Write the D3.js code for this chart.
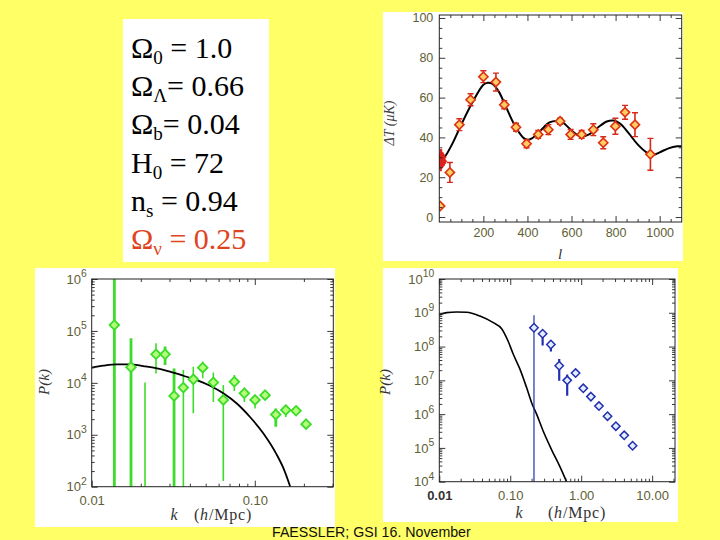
<!DOCTYPE html>
<html><head><meta charset="utf-8">
<script src="https://cdn.jsdelivr.net/npm/d3@7"></script>
<style>body{margin:0;background:#ffff66;} svg{display:block}</style>
</head><body>
<svg id="c" width="720" height="540"></svg>
<script>
// ---------------- data ----------------
const paramSymbols = ["Ω", "Ω", "Ω", "H", "n", "Ω"];
const paramSubs    = ["0", "Λ", "b", "0", "s", "ν"];
const paramValues  = [" = 1.0", "= 0.66", "= 0.04", " = 72", " = 0.94", " = 0.25"];
const paramHighlight = [false, false, false, false, false, true];

// CMB anisotropy
const cmbL   = [4, 48, 91, 142, 200, 257, 295, 348, 396, 449, 495, 548, 596, 646, 699, 744, 799, 843, 888, 958];
const cmbT   = [5.5, 22.4, 46.4, 58.9, 70.5, 67.8, 56.4, 45.1, 36.8, 41.5, 43.9, 48.1, 41.5, 41.5, 43.9, 37.3, 45.6, 52.6, 46.4, 31.5];
const cmbErr = [1, 5, 3, 3, 3, 4.5, 2, 2, 2, 2, 2.5, 1.5, 2.5, 2, 3, 3, 4, 3.5, 6, 8];
const cobeL   = [3, 5, 7, 9, 11, 13, 15, 18];
const cobeT   = [28, 30, 26, 31, 29, 27, 30, 28];
const cobeErr = [4, 4, 3, 3, 3, 2.5, 2.5, 2.5];
const cmbModelL = [10, 30, 60, 100, 150, 200, 220, 240, 270, 300, 340, 380, 400, 420, 460, 500, 530, 560, 600, 640, 680, 720, 760, 790, 820, 860, 900, 940, 970, 1000, 1040, 1080, 1100];
const cmbModelT = [28, 31, 37, 46.5, 57.5, 66.5, 67.5, 67, 63, 56, 46.5, 40, 38.8, 39.5, 43.5, 47.5, 48.3, 47.5, 43.5, 40.5, 41.5, 45, 48, 48.5, 47, 42, 36.5, 32.5, 31.2, 32.5, 34.5, 35.5, 35.5];
const cmbYTicks = [0, 20, 40, 60, 80, 100];
const cmbXTicks = [200, 400, 600, 800, 1000];

// galaxy power spectrum
const galK  = [0.01377, 0.01742, 0.02123, 0.02479, 0.02818, 0.03199, 0.03648, 0.04198, 0.04796, 0.05572, 0.06412, 0.07494, 0.0863, 0.1004, 0.1157, 0.1345, 0.1549, 0.1791, 0.2063];
const galP  = [1.3e5, 2.0e4, 20, 3.55e4, 3.55e4, 5.6e3, 8.1e3, 1.17e4, 1.96e4, 1.02e4, 4.7e3, 1.05e4, 6.3e3, 4.7e3, 5.8e3, 2.45e3, 3.0e3, 2.9e3, 1.6e3];
const galHi = [2e6, 7.2e4, 1.02e4, 5.8e4, 5.0e4, 1.9e4, 1.77e4, 2.05e4, 2.56e4, 1.59e4, 9.1e3, 1.42e4, 8.1e3, 5.8e3, 6.8e3, 3.2e3, 3.6e3, 3.2e3, 1.84e3];
const galLo = [10, 10, 10, 1.52e4, 2.2e4, 10, 10, 2.6e3, 1.22e4, 4.3e3, 129, 7.0e3, 4.3e3, 3.2e3, 5.0e3, 1.43e3, 2.2e3, 2.6e3, 1.33e3];
const galSurvey = ["A", "A", "B", "B", "A", "A", "B", "B", "B", "B", "B", "B", "B", "B", "B", "A", "B", "B", "B"];
const galModelK = [0.0100, 0.0118, 0.0142, 0.0172, 0.0207, 0.0251, 0.0302, 0.0365, 0.0441, 0.0532, 0.0641, 0.0776, 0.0935, 0.113, 0.136, 0.150, 0.165];
const galModelP = [1.96e4, 2.14e4, 2.27e4, 2.27e4, 2.1e4, 1.9e4, 1.64e4, 1.37e4, 1.13e4, 8.8e3, 6.3e3, 4.0e3, 2.2e3, 1.06e3, 420, 225, 100];
const galYTicks = [1e2, 1e3, 1e4, 1e5, 1e6];
const galXTicks = [0.01, 0.1];

// Lyman-alpha forest power spectrum
const lyaK  = [0.216, 0.286, 0.374, 0.49, 0.635, 0.834, 1.07, 1.37, 1.78, 2.35, 3.08, 4.04, 5.3];
const lyaP  = [3.6e8, 2.4e8, 1.15e8, 2.7e7, 1.0e7, 1.64e7, 5.8e6, 3.3e6, 1.73e6, 8.7e5, 4.4e5, 2.36e5, 1.16e5];
const lyaHi = [8.4e8, 3.0e8, 1.5e8, 4.3e7, 1.5e7, 2.0e7, 6.6e6, 3.8e6, 2.0e6, 1.0e6, 5.0e5, 2.7e5, 1.3e5];
const lyaLo = [1e3, 1.07e8, 7.1e7, 9.7e6, 3.5e6, 1.35e7, 5.0e6, 2.9e6, 1.5e6, 7.6e5, 3.9e5, 2.05e5, 1.02e5];
const lyaModelK = [0.0100, 0.0127, 0.0176, 0.0243, 0.0374, 0.0577, 0.0757, 0.0938, 0.110, 0.137, 0.170, 0.200, 0.236, 0.292, 0.383, 0.501, 0.622];
const lyaModelP = [8.8e8, 1.01e9, 1.06e9, 1.04e9, 8.0e8, 5.1e8, 3.37e8, 1.41e8, 6.0e7, 2.15e7, 6.1e6, 2.18e6, 9.8e5, 3.1e5, 8.8e4, 2.8e4, 1.0e4];
const lyaYTicks = [1e4, 1e5, 1e6, 1e7, 1e8, 1e9, 1e10];
const lyaXTicks = [0.01, 0.1, 1, 10];

const footerText = "FAESSLER; GSI 16. November";

// ---------------- drawing ----------------
const svg = d3.select("#c");
const LABEL = "#5e5e34";
const SANS = "'Liberation Sans', Arial, sans-serif";
const SERIF = "'Liberation Serif', 'Times New Roman', serif";
svg.append("rect").attr("width", 720).attr("height", 540).attr("fill", "#ffff66");

// white backgrounds
[[123, 19, 146, 243], [383, 12, 300, 249], [35, 268, 300, 259], [383, 268, 295, 254]].forEach(r =>
  svg.append("rect").attr("x", r[0]).attr("y", r[1]).attr("width", r[2]).attr("height", r[3]).attr("fill", "#fff"));

// parameter box
const pt = svg.append("g").attr("font-family", SERIF).attr("font-size", 30);
paramSymbols.forEach((s, i) => {
  const t = pt.append("text").attr("x", 131).attr("y", 58 + i * 38.2)
    .attr("fill", paramHighlight[i] ? "#e0441e" : "#000");
  t.append("tspan").text(s);
  t.append("tspan").attr("font-size", 19).attr("dy", 6).text(paramSubs[i]);
  t.append("tspan").attr("dy", -6).text(paramValues[i]);
});

function logMinor(domain) {
  const out = [];
  const a = Math.floor(Math.log10(domain[0])), b = Math.ceil(Math.log10(domain[1]));
  for (let e = a; e <= b; e++) for (let m = 2; m <= 9; m++) {
    const v = m * Math.pow(10, e);
    if (v >= domain[0] && v <= domain[1]) out.push(v);
  }
  return out;
}

function drawAxes(g, x, y, cfg) {
  const [x0, x1] = x.range(), [yb, yt] = y.range();
  const style = sel => {
    sel.select(".domain").remove();
    sel.attr("color", "#222").attr("font-family", SANS).attr("font-size", cfg.fs || 12);
    sel.selectAll("text").attr("fill", LABEL);
    sel.selectAll("line").attr("stroke-width", 0.9);
  };
  g.append("g").attr("transform", `translate(0,${yb})`)
    .call(d3.axisBottom(x).tickValues(cfg.xMajor).tickSizeInner(-cfg.maj).tickSizeOuter(0).tickPadding(cfg.xPad).tickFormat(cfg.xFmt)).call(style);
  g.append("g").attr("transform", `translate(0,${yb})`)
    .call(d3.axisBottom(x).tickValues(cfg.xMinor).tickSize(-cfg.min).tickFormat("")).call(style);
  g.append("g").attr("transform", `translate(0,${yt})`)
    .call(d3.axisTop(x).tickValues(cfg.xMajor).tickSize(-cfg.maj).tickFormat("")).call(style);
  g.append("g").attr("transform", `translate(0,${yt})`)
    .call(d3.axisTop(x).tickValues(cfg.xMinor).tickSize(-cfg.min).tickFormat("")).call(style);
  const yl = g.append("g").attr("transform", `translate(${x0},0)`)
    .call(d3.axisLeft(y).tickValues(cfg.yMajor).tickSizeInner(-cfg.maj).tickSizeOuter(0).tickPadding(cfg.yPad).tickFormat(cfg.yFmt)).call(style);
  g.append("g").attr("transform", `translate(${x0},0)`)
    .call(d3.axisLeft(y).tickValues(cfg.yMinor).tickSize(-cfg.min).tickFormat("")).call(style);
  g.append("g").attr("transform", `translate(${x1},0)`)
    .call(d3.axisRight(y).tickValues(cfg.yMajor).tickSize(-cfg.maj).tickFormat("")).call(style);
  g.append("g").attr("transform", `translate(${x1},0)`)
    .call(d3.axisRight(y).tickValues(cfg.yMinor).tickSize(-cfg.min).tickFormat("")).call(style);
  if (cfg.logY) {
    yl.selectAll(".tick text").each(function (d) {
      const t = d3.select(this);
      t.text("10");
      t.append("tspan").attr("dy", "-0.6em").attr("font-size", "0.8em").text(Math.round(Math.log10(d)));
    });
  }
  g.append("rect").attr("x", x0).attr("y", yt).attr("width", x1 - x0).attr("height", yb - yt)
    .attr("fill", "none").attr("stroke", "#222").attr("stroke-width", 1);
}

const diamond = r => `M0,${-r}L${r},0L0,${r}L${-r},0Z`;

function clip(id, x, y) {
  const [x0, x1] = x.range(), [yb, yt] = y.range();
  svg.append("clipPath").attr("id", id).append("rect")
    .attr("x", x0).attr("y", yt).attr("width", x1 - x0).attr("height", yb - yt);
  return `url(#${id})`;
}

function kTitle(g, xk, xp, yy) {
  g.append("text").attr("x", xk).attr("y", yy).attr("text-anchor", "middle")
    .attr("font-family", SERIF).attr("font-style", "italic").attr("font-size", 16).attr("fill", "#333").text("k");
  const t = g.append("text").attr("x", xp).attr("y", yy).attr("text-anchor", "middle")
    .attr("font-family", SERIF).attr("font-size", 16).attr("fill", "#333").attr("letter-spacing", 0.8);
  t.append("tspan").text("(");
  t.append("tspan").attr("font-style", "italic").text("h");
  t.append("tspan").text("/Mpc)");
}

// ---------- CMB panel ----------
{
  const x = d3.scaleLinear().domain([0, 1100]).range([439.3, 681.7]);
  const y = d3.scaleLinear().domain([-2.5, 101.5]).range([222, 15]);
  const g = svg.append("g");
  const d = g.append("g").attr("clip-path", clip("cmbclip", x, y));
  const line = d3.line().x(v => x(v[0])).y(v => y(v[1])).curve(d3.curveCatmullRom);
  d.append("path").attr("d", line(cmbModelL.map((l, i) => [l, cmbModelT[i]])))
    .attr("fill", "none").attr("stroke", "#000").attr("stroke-width", 2);
  cobeL.forEach((l, i) => {
    d.append("line").attr("x1", x(l)).attr("x2", x(l)).attr("y1", y(cobeT[i] - cobeErr[i])).attr("y2", y(cobeT[i] + cobeErr[i]))
      .attr("stroke", "#e0201a").attr("stroke-width", 2);
    d.append("path").attr("d", diamond(4)).attr("transform", `translate(${x(l)},${y(cobeT[i])})`).attr("fill", "#e0201a");
  });
  cmbL.forEach((l, i) => {
    const cx = x(l), lo = y(cmbT[i] - cmbErr[i]), hi = y(cmbT[i] + cmbErr[i]);
    d.append("line").attr("x1", cx).attr("x2", cx).attr("y1", lo).attr("y2", hi).attr("stroke", "#d42a1c").attr("stroke-width", 1.6);
    [lo, hi].forEach(yy => d.append("line").attr("x1", cx - 3).attr("x2", cx + 3).attr("y1", yy).attr("y2", yy).attr("stroke", "#d42a1c").attr("stroke-width", 1.4));
    d.append("path").attr("d", diamond(4.6)).attr("transform", `translate(${cx},${y(cmbT[i])})`)
      .attr("fill", "#ffcc66").attr("stroke", "#dd3311").attr("stroke-width", 1.6);
  });
  const minorX = d3.range(50, 1100, 50).filter(v => !cmbXTicks.includes(v));
  const minorY = d3.range(0, 101, 5).filter(v => !cmbYTicks.includes(v));
  drawAxes(g, x, y, { xMajor: cmbXTicks, xMinor: minorX, yMajor: cmbYTicks, yMinor: minorY, maj: 6, min: 3,
    xPad: 6, yPad: 6, xFmt: d3.format("d"), yFmt: d3.format("d"), fs: 12.5 });
  g.append("text").attr("transform", "translate(394,123) rotate(-90)").attr("text-anchor", "middle")
    .attr("font-family", SERIF).attr("font-style", "italic").attr("font-size", 14).attr("fill", "#444").text("ΔT  (μK)");
  g.append("text").attr("x", 560).attr("y", 259).attr("text-anchor", "middle")
    .attr("font-family", SERIF).attr("font-style", "italic").attr("font-size", 15).attr("fill", "#333").text("l");
}

// ---------- galaxy panel ----------
{
  const x = d3.scaleLog().domain([0.01, 0.303]).range([91.7, 333.3]);
  const y = d3.scaleLog().domain([1e2, 1e6]).range([486.7, 279]);
  const g = svg.append("g");
  const d = g.append("g").attr("clip-path", clip("galclip", x, y));
  const line = d3.line().x(v => x(v[0])).y(v => y(v[1])).curve(d3.curveMonotoneX);
  galK.forEach((k, i) => {
    d.append("line").attr("x1", x(k)).attr("x2", x(k)).attr("y1", y(galLo[i])).attr("y2", y(galHi[i]))
      .attr("stroke", "#3ddc2a").attr("stroke-width", galSurvey[i] === "A" ? 2.8 : 1.6);
  });
  d.append("path").attr("d", line(galModelK.map((k, i) => [k, galModelP[i]])))
    .attr("fill", "none").attr("stroke", "#000").attr("stroke-width", 1.8);
  galK.forEach((k, i) => {
    d.append("path").attr("d", diamond(4.8)).attr("transform", `translate(${x(k)},${y(galP[i])})`)
      .attr("fill", "#b4ff7a").attr("stroke", "#3ddc2a").attr("stroke-width", 1.8);
  });
  drawAxes(g, x, y, { xMajor: galXTicks, xMinor: logMinor([0.01, 0.303]), yMajor: galYTicks, yMinor: logMinor([1e2, 1e6]),
    maj: 6, min: 3, xPad: 9, yPad: 5, xFmt: d3.format(".2f"), yFmt: d => "10", logY: true, fs: 13 });
  g.append("text").attr("transform", "translate(49,382) rotate(-90)").attr("text-anchor", "middle")
    .attr("font-family", SERIF).attr("font-style", "italic").attr("font-size", 15).attr("fill", "#333").text("P(k)");
  kTitle(g, 174, 223, 520);
}

// ---------- Lyman-alpha panel ----------
{
  const x = d3.scaleLog().domain([0.01, 21]).range([439.3, 675]);
  const y = d3.scaleLog().domain([1e4, 1e10]).range([481.7, 279]);
  const g = svg.append("g");
  const d = g.append("g").attr("clip-path", clip("lyaclip", x, y));
  const line = d3.line().x(v => x(v[0])).y(v => y(v[1])).curve(d3.curveMonotoneX);
  d.append("path").attr("d", line(lyaModelK.map((k, i) => [k, lyaModelP[i]])))
    .attr("fill", "none").attr("stroke", "#000").attr("stroke-width", 1.6);
  lyaK.forEach((k, i) => {
    d.append("line").attr("x1", x(k)).attr("x2", x(k)).attr("y1", y(lyaLo[i])).attr("y2", y(lyaHi[i]))
      .attr("stroke", "#2230b0").attr("stroke-width", i === 0 ? 1.2 : 2.2);
    d.append("path").attr("d", diamond(4.2)).attr("transform", `translate(${x(k)},${y(lyaP[i])})`)
      .attr("fill", "#e4ecff").attr("stroke", "#2230b0").attr("stroke-width", 1.5);
  });
  drawAxes(g, x, y, { xMajor: lyaXTicks, xMinor: logMinor([0.01, 21]), yMajor: lyaYTicks, yMinor: logMinor([1e4, 1e10]),
    maj: 6, min: 3, xPad: 9, yPad: 5, xFmt: d3.format(".2f"), yFmt: d => "10", logY: true, fs: 13 });
  g.selectAll(".tick text").filter(v => v === 0.01).attr("font-weight", "bold").attr("fill", "#333");
  g.append("text").attr("transform", "translate(390,382) rotate(-90)").attr("text-anchor", "middle")
    .attr("font-family", SERIF).attr("font-style", "italic").attr("font-size", 15).attr("fill", "#333").text("P(k)");
  kTitle(g, 519, 577, 518);
}

// footer
svg.append("text").attr("x", 272).attr("y", 537).attr("font-family", SANS).attr("font-size", 14.2)
  .attr("fill", "#111").text(footerText);
</script>
</body></html>
